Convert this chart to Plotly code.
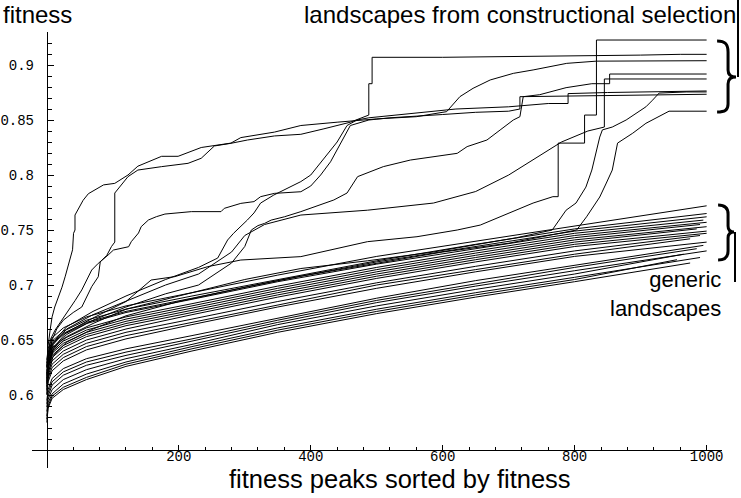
import plotly.graph_objects as go

W, H = 741, 498

# ---------------- axis ticks ----------------
x_major = [200, 400, 600, 800, 1000]
x_major_text = ["200", "400", "600", "800", "1000"]
x_minor = [40, 80, 120, 160, 240, 280, 320, 360, 440, 480, 520, 560,
           640, 680, 720, 760, 840, 880, 920, 960]
y_major = [0.6, 0.65, 0.7, 0.75, 0.8, 0.85, 0.9]
y_major_text = ["0.6", "0.65", "0.7", "0.75", "0.8", "0.85", "0.9"]
y_minor = [0.56, 0.57, 0.58, 0.59, 0.61, 0.62, 0.63, 0.64, 0.66, 0.67, 0.68, 0.69,
           0.71, 0.72, 0.73, 0.74, 0.76, 0.77, 0.78, 0.79, 0.81, 0.82, 0.83, 0.84,
           0.86, 0.87, 0.88, 0.89, 0.91, 0.92, 0.93]

# ---------------- generic landscapes ----------------
gen_knots = [0, 2, 8, 25, 60, 120, 220, 350, 500, 650, 800, 1000]
gen_end = [1000, 1000, 1000, 995, 1000, 990, 1000, 985, 1000, 1000,
           990, 975, 1000, 995, 985, 1000, 965, 990, 955, 975]
gen_01 = [0.632, 0.642, 0.652, 0.661, 0.671, 0.681, 0.693, 0.709, 0.726, 0.740, 0.754, 0.772]
gen_02 = [0.629, 0.639, 0.649, 0.658, 0.668, 0.678, 0.690, 0.705, 0.722, 0.737, 0.751, 0.765]
gen_03 = [0.626, 0.637, 0.647, 0.656, 0.666, 0.676, 0.688, 0.704, 0.721, 0.735, 0.749, 0.762]
gen_04 = [0.625, 0.635, 0.646, 0.655, 0.665, 0.675, 0.687, 0.703, 0.719, 0.733, 0.747, 0.759]
gen_05 = [0.622, 0.632, 0.643, 0.651, 0.661, 0.671, 0.683, 0.699, 0.716, 0.731, 0.745, 0.757]
gen_06 = [0.619, 0.630, 0.640, 0.649, 0.659, 0.669, 0.681, 0.697, 0.714, 0.729, 0.743, 0.755]
gen_07 = [0.617, 0.628, 0.638, 0.647, 0.657, 0.667, 0.679, 0.695, 0.712, 0.727, 0.741, 0.753]
gen_08 = [0.615, 0.626, 0.636, 0.645, 0.655, 0.665, 0.677, 0.693, 0.710, 0.725, 0.739, 0.751]
gen_09 = [0.613, 0.624, 0.634, 0.643, 0.653, 0.663, 0.675, 0.691, 0.708, 0.723, 0.737, 0.749]
gen_10 = [0.611, 0.621, 0.631, 0.640, 0.650, 0.660, 0.673, 0.689, 0.706, 0.721, 0.735, 0.747]
gen_11 = [0.607, 0.618, 0.628, 0.637, 0.647, 0.657, 0.669, 0.685, 0.702, 0.717, 0.731, 0.745]
gen_12 = [0.604, 0.615, 0.625, 0.634, 0.644, 0.654, 0.666, 0.682, 0.700, 0.714, 0.728, 0.742]
gen_13 = [0.601, 0.612, 0.622, 0.631, 0.641, 0.651, 0.664, 0.680, 0.697, 0.712, 0.726, 0.739]
gen_14 = [0.595, 0.605, 0.615, 0.624, 0.633, 0.642, 0.654, 0.670, 0.688, 0.704, 0.718, 0.736]
gen_15 = [0.592, 0.602, 0.612, 0.621, 0.630, 0.639, 0.651, 0.668, 0.686, 0.701, 0.716, 0.733]
gen_16 = [0.589, 0.599, 0.609, 0.618, 0.627, 0.636, 0.649, 0.666, 0.684, 0.699, 0.713, 0.731]
gen_17 = [0.585, 0.596, 0.605, 0.614, 0.623, 0.633, 0.646, 0.664, 0.681, 0.696, 0.710, 0.728]
gen_18 = [0.581, 0.593, 0.601, 0.610, 0.619, 0.630, 0.644, 0.661, 0.678, 0.693, 0.707, 0.725]
gen_19 = [0.578, 0.590, 0.599, 0.607, 0.616, 0.628, 0.642, 0.659, 0.676, 0.691, 0.705, 0.723]
gen_20 = [0.575, 0.588, 0.597, 0.605, 0.614, 0.626, 0.640, 0.657, 0.674, 0.689, 0.703, 0.720]
generic_series = [gen_01, gen_02, gen_03, gen_04, gen_05, gen_06, gen_07, gen_08, gen_09, gen_10,
                  gen_11, gen_12, gen_13, gen_14, gen_15, gen_16, gen_17, gen_18, gen_19, gen_20]

# ---------------- landscapes from constructional selection ----------------
con_a_x = [0, 2, 5, 8, 12, 18, 23, 28, 33, 39, 40.5, 42.7, 42.7, 48, 55, 63, 86, 103, 123, 138, 174,
           199, 234, 279, 294, 345, 385, 440, 500, 560, 606, 626, 646, 672, 707, 737, 788, 833, 900, 1000]
con_a_y = [0.625, 0.645, 0.659, 0.671, 0.680, 0.689, 0.698, 0.708, 0.720, 0.732, 0.747, 0.750, 0.7636,
           0.770, 0.777, 0.783, 0.791, 0.7924, 0.800, 0.808, 0.817, 0.817, 0.825, 0.829, 0.834, 0.839,
           0.845, 0.848, 0.851, 0.853, 0.8576, 0.8712, 0.8788, 0.8864, 0.8924, 0.8955, 0.9015, 0.9035,
           0.9039, 0.9039]

con_b_x = [0, 3, 8, 15, 25, 40, 53, 68, 78, 81, 91, 98, 103, 103, 123, 138, 174, 214, 234, 254, 279,
           304, 345, 385, 420, 460, 488, 488, 493, 493, 600, 700, 800, 900, 960, 1000]
con_b_y = [0.615, 0.635, 0.650, 0.660, 0.668, 0.675, 0.680, 0.6985, 0.7075, 0.721, 0.727, 0.735,
           0.739, 0.7836, 0.7985, 0.8045, 0.8076, 0.8106, 0.8152, 0.8264, 0.8288, 0.8318, 0.8355,
           0.837, 0.842, 0.848, 0.8545, 0.883, 0.883, 0.907, 0.907, 0.9075, 0.908, 0.909, 0.9097, 0.9097]

con_c_x = [0, 5, 12.5, 23, 33, 43, 53, 60, 68, 78, 88, 93, 101, 109, 124, 128, 139, 143, 154, 166, 179,
           219, 264, 269, 294, 314, 324, 345, 385, 400, 415, 430, 445, 460, 488, 520, 600, 650, 700,
           717, 717, 800, 900, 1000]
con_c_y = [0.620, 0.650, 0.659, 0.668, 0.677, 0.686, 0.6955, 0.7045, 0.7136, 0.7197, 0.7242, 0.7273,
           0.7318, 0.7327, 0.7348, 0.7394, 0.7473, 0.753, 0.7591, 0.7621, 0.7645, 0.7667, 0.7667,
           0.7697, 0.7742, 0.7758, 0.7803, 0.7833, 0.7848, 0.790, 0.800, 0.812, 0.828, 0.845, 0.850,
           0.852, 0.855, 0.857, 0.858, 0.860, 0.8712, 0.872, 0.873, 0.8734]

con_d_x = [0, 3, 10, 30, 70, 120, 180, 230, 259, 266, 274, 283, 294, 304, 314, 324, 344, 385, 400, 420,
           440, 455, 470, 488, 550, 620, 700, 760, 790, 790, 850, 1000]
con_d_y = [0.618, 0.635, 0.648, 0.662, 0.676, 0.690, 0.705, 0.716, 0.7245, 0.7318, 0.7409, 0.747,
           0.753, 0.7591, 0.7655, 0.7745, 0.7818, 0.794, 0.800, 0.815, 0.830, 0.845, 0.850, 0.852,
           0.856, 0.860, 0.862, 0.865, 0.865, 0.874, 0.875, 0.8764]

con_e_x = [0, 3, 10, 30, 70, 120, 180, 230, 280, 300, 310, 320, 330, 340, 360, 385, 435, 455, 471, 510,
           551, 622, 637, 667, 687, 707, 717, 722, 747, 787, 826, 853, 853, 1000]
con_e_y = [0.605, 0.628, 0.642, 0.655, 0.668, 0.680, 0.692, 0.700, 0.720, 0.735, 0.750, 0.754, 0.756,
           0.759, 0.762, 0.7667, 0.7773, 0.7836, 0.7985, 0.8076, 0.8136, 0.8197, 0.8258, 0.8318,
           0.8409, 0.850, 0.853, 0.8712, 0.873, 0.8794, 0.883, 0.883, 0.8918, 0.8918]

con_f_x = [0, 3, 10, 30, 70, 120, 180, 230, 280, 300, 330, 385, 486, 586, 650, 700, 740, 780, 820, 845,
           845, 1000]
con_f_y = [0.612, 0.632, 0.646, 0.660, 0.673, 0.685, 0.700, 0.710, 0.730, 0.745, 0.755, 0.7636, 0.768,
           0.7745, 0.785, 0.800, 0.815, 0.830, 0.840, 0.8436, 0.8873, 0.8873]

con_g_x = [0, 3, 10, 30, 70, 120, 158, 194, 244, 294, 385, 486, 561, 622, 657, 687, 737, 767, 775, 775,
           815, 815, 833, 833, 1000]
con_g_y = [0.610, 0.630, 0.643, 0.657, 0.670, 0.685, 0.7045, 0.7076, 0.7167, 0.7227, 0.7258, 0.7394,
           0.7439, 0.750, 0.7545, 0.762, 0.7745, 0.7803, 0.7803, 0.829, 0.829, 0.8545, 0.8545, 0.9227,
           0.9227]

con_h_x = [0, 3, 10, 30, 70, 120, 200, 300, 385, 486, 586, 667, 712, 766, 787, 802, 817, 826, 838, 842,
           857, 878, 908, 918, 928, 969, 1000]
con_h_y = [0.608, 0.628, 0.640, 0.653, 0.665, 0.678, 0.690, 0.705, 0.715, 0.722, 0.730, 0.738, 0.743,
           0.750, 0.768, 0.7745, 0.789, 0.8045, 0.8345, 0.841, 0.8436, 0.850, 0.862, 0.868, 0.8745,
           0.8755, 0.8755]

con_i_x = [0, 3, 10, 30, 70, 120, 200, 300, 385, 500, 600, 700, 760, 803, 818, 838, 848, 857, 865, 888,
           908, 943, 1000]
con_i_y = [0.600, 0.622, 0.636, 0.648, 0.660, 0.672, 0.685, 0.698, 0.708, 0.720, 0.730, 0.738, 0.745,
           0.750, 0.762, 0.780, 0.7927, 0.8045, 0.829, 0.838, 0.847, 0.858, 0.858]

constructional_series = [(con_a_x, con_a_y), (con_b_x, con_b_y), (con_c_x, con_c_y),
                         (con_d_x, con_d_y), (con_e_x, con_e_y), (con_f_x, con_f_y),
                         (con_g_x, con_g_y), (con_h_x, con_h_y), (con_i_x, con_i_y)]

fig = go.Figure()
line_style = dict(color="black", width=1)

for vals, end in zip(generic_series, gen_end):
    xs = gen_knots[:-1] + [end]
    fig.add_trace(go.Scatter(x=xs, y=vals, mode="lines", line=line_style,
                             hoverinfo="skip", showlegend=False))

for xs, ys in constructional_series:
    fig.add_trace(go.Scatter(x=xs, y=ys, mode="lines", line=line_style,
                             hoverinfo="skip", showlegend=False))

tick_font = dict(family="Liberation Mono", size=14, color="black")
fig.update_layout(
    width=W, height=H,
    margin=dict(l=0, r=0, t=0, b=0),
    paper_bgcolor="white", plot_bgcolor="white",
    showlegend=False,
    xaxis=dict(domain=[30 / W, 723 / W], range=[-22.64, 1023.4],
               anchor="free", position=48 / H,
               showline=True, linecolor="black", linewidth=1,
               showgrid=False, zeroline=False,
               ticks="inside", ticklen=5, tickwidth=1, tickcolor="black",
               tickmode="array", tickvals=x_major, ticktext=x_major_text,
               ticklabelstandoff=-7,
               minor=dict(tickvals=x_minor, ticks="inside", ticklen=3,
                          tickwidth=1, tickcolor="black", showgrid=False),
               tickfont=tick_font),
    yaxis=dict(domain=[30 / H, 466 / H], range=[0.53364, 0.93],
               anchor="free", position=45 / W,
               showline=True, linecolor="black", linewidth=1,
               showgrid=False, zeroline=False,
               ticks="inside", ticklen=6, tickwidth=1, tickcolor="black",
               tickmode="array", tickvals=y_major, ticktext=y_major_text,
               ticklabelstandoff=10,
               minor=dict(tickvals=y_minor, ticks="inside", ticklen=4,
                          tickwidth=1, tickcolor="black", showgrid=False),
               tickfont=tick_font),
)


def px(x, y):
    return f"{x / W:.5f},{1 - y / H:.5f}"


upper_brace = ("M " + px(718, 41) + " C " + px(726, 41) + " " + px(729, 44) + " " + px(729, 52)
               + " L " + px(729, 70) + " C " + px(729, 75) + " " + px(732, 77) + " " + px(737, 77)
               + " C " + px(732, 77) + " " + px(729, 79) + " " + px(729, 84)
               + " L " + px(729, 104) + " C " + px(729, 110) + " " + px(726, 112) + " " + px(718, 112))
lower_brace = ("M " + px(719, 205) + " C " + px(726, 205) + " " + px(729, 208) + " " + px(729, 214)
               + " L " + px(729, 226) + " C " + px(729, 230) + " " + px(731, 232) + " " + px(735, 232)
               + " C " + px(731, 232) + " " + px(729, 234) + " " + px(729, 238)
               + " L " + px(729, 251) + " C " + px(729, 257) + " " + px(726, 260) + " " + px(719, 260))

shapes = [
    dict(type="path", xref="paper", yref="paper", path=upper_brace,
         line=dict(color="black", width=3)),
    dict(type="path", xref="paper", yref="paper", path=lower_brace,
         line=dict(color="black", width=3)),
    dict(type="line", xref="paper", yref="paper", x0=739 / W, x1=739 / W,
         y0=1 - 0 / H, y1=1 - 77 / H, line=dict(color="black", width=2)),
    dict(type="line", xref="paper", yref="paper", x0=736 / W, x1=736 / W,
         y0=1 - 232 / H, y1=1 - 282 / H, line=dict(color="black", width=2)),
]
fig.update_layout(shapes=shapes)

text_font = "Liberation Sans"
annotations = [
    dict(text="fitness", x=0, y=1, xref="paper", yref="paper", xanchor="left", yanchor="top",
         showarrow=False, font=dict(family=text_font, size=24, color="black"), borderpad=0),
    dict(text="landscapes from constructional selection", x=738 / W, y=1, xref="paper",
         yref="paper", xanchor="right", yanchor="top", showarrow=False,
         font=dict(family=text_font, size=24, color="black"), borderpad=0),
    dict(text="generic<br>landscapes", x=723 / W, y=1 - 294 / H, xref="paper", yref="paper",
         xanchor="right", yanchor="middle", align="right", showarrow=False,
         font=dict(family=text_font, size=22, color="black"), borderpad=0),
    dict(text="fitness peaks sorted by fitness", x=400 / W, y=1 - 479 / H, xref="paper",
         yref="paper", xanchor="center", yanchor="middle", showarrow=False,
         font=dict(family=text_font, size=25.5, color="black"), borderpad=0),
]
fig.update_layout(annotations=annotations)

fig.write_html("out.html")
